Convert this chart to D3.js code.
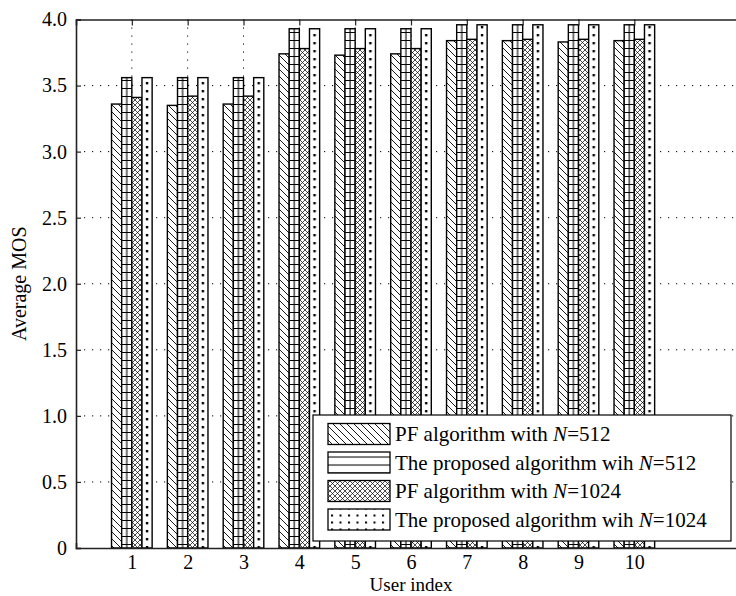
<!DOCTYPE html>
<html>
<head>
<meta charset="utf-8">
<script src="https://cdn.jsdelivr.net/npm/d3@7"></script>
<style>
  body { margin: 0; background: #fff; }
  text { font-family: "Liberation Serif", "Times New Roman", serif; fill: #000; }
</style>
</head>
<body>
<div id="chart"></div>
<script>
// data
var users = [1, 2, 3, 4, 5, 6, 7, 8, 9, 10];
var pf512 = [3.36, 3.35, 3.36, 3.74, 3.73, 3.74, 3.84, 3.84, 3.83, 3.84];
var prop512 = [3.56, 3.56, 3.56, 3.93, 3.93, 3.93, 3.96, 3.96, 3.96, 3.96];
var pf1024 = [3.41, 3.42, 3.42, 3.78, 3.78, 3.78, 3.85, 3.85, 3.85, 3.85];
var prop1024 = [3.56, 3.56, 3.56, 3.93, 3.93, 3.93, 3.96, 3.96, 3.96, 3.96];
var seriesNames = ["PF algorithm with ", "The proposed algorithm wih ", "PF algorithm with ", "The proposed algorithm wih "];
var seriesN = ["512", "512", "1024", "1024"];
var yTicks = [0, 0.5, 1.0, 1.5, 2.0, 2.5, 3.0, 3.5, 4.0];

var w = 736, h = 596;
var padL = 76, padR = 746, padT = 19.5, padB = 548;

var svg = d3.select("#chart").append("svg")
  .attr("width", w).attr("height", h);

var xScale = d3.scaleLinear().domain([0, 12]).range([padL, padR]);
var yScale = d3.scaleLinear().domain([0, 4]).range([padB, padT]);

var step = xScale(1) - xScale(0);
var groupW = step * 4 / 5.5;
var barW = groupW / 4;
function barX(u, i) { return xScale(u) - groupW / 2 + i * barW; }

// patterns
var defs = svg.append("defs");

// diagonal hatch
var p0 = defs.append("pattern").attr("id", "diag")
  .attr("patternUnits", "userSpaceOnUse").attr("width", 7).attr("height", 7);
p0.append("path").attr("d", "M-1,-1 L8,8 M-1,6 L1,8 M6,-1 L8,1")
  .attr("stroke", "#000").attr("stroke-width", 0.9);

// squares in the bars (horizontal lines + centre line), repeats every group
var p1 = defs.append("pattern").attr("id", "sq")
  .attr("patternUnits", "userSpaceOnUse")
  .attr("x", barX(1, 1)).attr("y", 0)
  .attr("width", step).attr("height", 8);
p1.append("path").attr("d", "M0,0.5 H" + barW + " M" + (barW / 2) + ",0 V8")
  .attr("stroke", "#000").attr("stroke-width", 1.1);

// plain horizontal lines for the legend
var p1l = defs.append("pattern").attr("id", "hline")
  .attr("patternUnits", "userSpaceOnUse").attr("width", 8).attr("height", 8)
  .attr("y", 2);
p1l.append("path").attr("d", "M0,0.5 H8").attr("stroke", "#000").attr("stroke-width", 1.1);

// cross hatch
var p2 = defs.append("pattern").attr("id", "cross")
  .attr("patternUnits", "userSpaceOnUse").attr("width", 5).attr("height", 5);
p2.append("path").attr("d", "M0,0 L5,5 M5,0 L0,5")
  .attr("stroke", "#000").attr("stroke-width", 0.7);

// dots in the bars, one column per bar
var p3 = defs.append("pattern").attr("id", "dots")
  .attr("patternUnits", "userSpaceOnUse")
  .attr("x", barX(1, 3)).attr("y", 2)
  .attr("width", step).attr("height", 8);
p3.append("rect").attr("x", barW / 2 - 1.2).attr("y", 0)
  .attr("width", 2.4).attr("height", 2.4).attr("fill", "#000");

// dot grid for the legend
var p3l = defs.append("pattern").attr("id", "dotgrid")
  .attr("patternUnits", "userSpaceOnUse").attr("width", 8.5).attr("height", 7)
  .attr("x", 331).attr("y", 2);
p3l.append("rect").attr("x", 0).attr("y", 0)
  .attr("width", 2).attr("height", 2).attr("fill", "#000");

var fills = ["url(#diag)", "url(#sq)", "url(#cross)", "url(#dots)"];
var legendFills = ["url(#diag)", "url(#hline)", "url(#cross)", "url(#dotgrid)"];

// dotted grid
svg.append("g").selectAll("line")
  .data(yTicks.filter(function(d) { return d > 0 && d < 4; }))
  .enter().append("line")
  .attr("x1", padL).attr("x2", padR)
  .attr("y1", function(d) { return yScale(d); })
  .attr("y2", function(d) { return yScale(d); })
  .attr("stroke", "#000").attr("stroke-width", 1)
  .attr("stroke-dasharray", "1.2,6.8");

svg.append("g").selectAll("line")
  .data(users)
  .enter().append("line")
  .attr("x1", function(d) { return xScale(d); })
  .attr("x2", function(d) { return xScale(d); })
  .attr("y1", padT).attr("y2", padB)
  .attr("stroke", "#000").attr("stroke-width", 1)
  .attr("stroke-dasharray", "1.2,6.8");

// bars
var allSeries = [pf512, prop512, pf1024, prop1024];
allSeries.forEach(function(vals, i) {
  svg.append("g").selectAll("rect")
    .data(vals)
    .enter().append("rect")
    .attr("x", function(d, j) { return barX(users[j], i); })
    .attr("y", function(d) { return yScale(d); })
    .attr("width", barW)
    .attr("height", function(d) { return padB - yScale(d); })
    .attr("fill", "#fff");
  svg.append("g").selectAll("rect")
    .data(vals)
    .enter().append("rect")
    .attr("x", function(d, j) { return barX(users[j], i); })
    .attr("y", function(d) { return yScale(d); })
    .attr("width", barW)
    .attr("height", function(d) { return padB - yScale(d); })
    .attr("fill", fills[i])
    .attr("stroke", "#000").attr("stroke-width", 1.4);
});

// axes
var yAxis = d3.axisLeft(yScale).tickValues(yTicks).tickSize(-5).tickPadding(9)
  .tickFormat(function(d) { return d === 0 ? "0" : d.toFixed(1); });
var gy = svg.append("g").attr("transform", "translate(" + padL + ",0)").call(yAxis);

var xAxis = d3.axisBottom(xScale).tickValues(users).tickSize(-5).tickPadding(7)
  .tickFormat(d3.format("d"));
var gx = svg.append("g").attr("transform", "translate(0," + padB + ")").call(xAxis);

var xTop = d3.axisTop(xScale).tickValues(users).tickSize(-6).tickFormat("");
var gt = svg.append("g").attr("transform", "translate(0," + padT + ")").call(xTop);

[gx, gy, gt].forEach(function(g) {
  g.select(".domain").attr("stroke", "#222").attr("stroke-width", 1.6);
  g.selectAll(".tick line").attr("stroke", "#222").attr("stroke-width", 1.2);
  g.selectAll("text").style("font-size", "20px")
    .style("font-family", "'Liberation Serif', serif").attr("fill", "#000");
});

svg.append("text")
  .attr("x", xScale(6)).attr("y", 591)
  .attr("text-anchor", "middle").style("font-size", "19px")
  .text("User index");

svg.append("text")
  .attr("transform", "translate(26," + ((padT + padB) / 2) + ") rotate(-90)")
  .attr("text-anchor", "middle").style("font-size", "20px")
  .text("Average MOS");

// legend
var lg = svg.append("g");
lg.append("rect").attr("x", 313).attr("y", 415).attr("width", 418).attr("height", 126)
  .attr("fill", "#fff").attr("stroke", "#000").attr("stroke-width", 1.2);

var rows = lg.selectAll("g.row").data(seriesNames).enter().append("g")
  .attr("class", "row")
  .attr("transform", function(d, i) { return "translate(0," + (434 + i * 28.5) + ")"; });

rows.append("rect").attr("x", 328).attr("y", -10.5).attr("width", 62).attr("height", 21)
  .attr("fill", "#fff").attr("stroke", "none");
rows.append("rect").attr("x", 328).attr("y", -10.5).attr("width", 62).attr("height", 21)
  .attr("fill", function(d, i) { return legendFills[i]; })
  .attr("stroke", "#000").attr("stroke-width", 1.3);

var lt = rows.append("text").attr("x", 395).attr("y", 7).style("font-size", "21px");
lt.append("tspan").text(function(d) { return d; });
lt.append("tspan").style("font-style", "italic").text("N");
lt.append("tspan").text(function(d, i) { return "=" + seriesN[i]; });
</script>
</body>
</html>
